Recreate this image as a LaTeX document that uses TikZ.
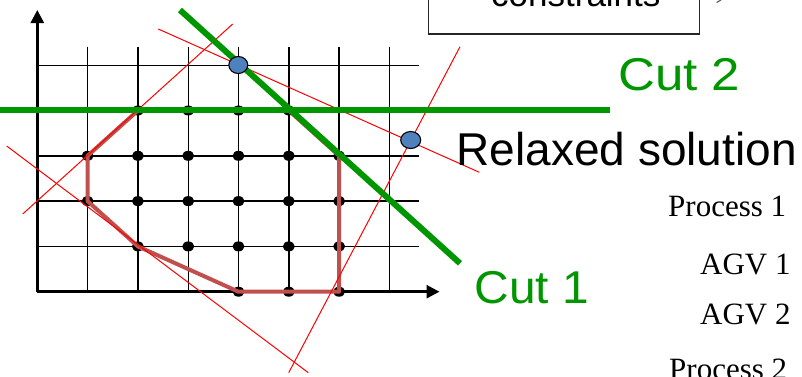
\documentclass[tikz,border=0pt]{standalone}
\usepackage{fontspec}
\setmainfont{Liberation Serif}
\newfontfamily\gothic{Liberation Sans}
\usetikzlibrary{arrows.meta,shapes.geometric}
\definecolor{cutgreen}{RGB}{0,150,0}
\definecolor{polyred}{RGB}{192,80,77}
\definecolor{bluept}{RGB}{79,129,189}
\tikzset{
  gridline/.style={line width=1.4pt,black},
  axisline/.style={line width=2.6pt,black,-{Triangle[width=13pt,length=13pt]}},
  intdot/.style={ellipse,fill=black,inner sep=0pt,minimum width=12pt,minimum height=10pt},
  hull/.style={line width=4pt,polyred,line join=round},
  redline/.style={line width=1pt,red},
  cutline/.style={line width=6pt,cutgreen},
  relaxpt/.style={ellipse,draw=black,line width=1.1pt,fill=bluept,inner sep=0pt},
  cutlabel/.style={anchor=base west,inner sep=0pt,text=cutgreen,font=\gothic\fontsize{46}{50}\selectfont},
  biglabel/.style={anchor=base west,inner sep=0pt,font=\gothic\fontsize{46}{50}\selectfont},
  seriflabel/.style={anchor=base west,inner sep=0pt,font=\fontsize{31}{34}\selectfont},
  boxstyle/.style={draw=black!85,line width=1.2pt}
}
\begin{document}
\begin{tikzpicture}[x=1pt,y=-1pt]
\useasboundingbox (0,0) rectangle (802,376);
\clip (0,0) rectangle (802,376);
% grid coordinates
\foreach \i in {0,...,7}{
  \foreach \j in {0,...,5}{
    \coordinate (g\i\j) at ({37.3+50.3*\i},{291.7-45.3*\j});
  }
}
% grid lines
\foreach \j in {1,...,5}{
  \coordinate (hl\j) at ({37.3},{291.7-45.3*\j});
  \coordinate (hr\j) at ({419.3},{291.7-45.3*\j});
  \draw[gridline] (hl\j) -- (hr\j);
}
\foreach \i in {1,...,7}{
  \coordinate (vt\i) at ({37.3+50.3*\i},46.7);
  \draw[gridline] (vt\i) -- (g\i0);
}
% axes
\coordinate (ytip) at (37.3,10);
\coordinate (xtip) at (439.5,291.7);
\draw[axisline] (g00) -- (ytip);
\draw[axisline] (g00) -- (xtip);
% integer points
\foreach \i/\j in {4/0,5/0,6/0,
                   2/1,3/1,4/1,5/1,6/1,
                   1/2,2/2,3/2,4/2,5/2,6/2,
                   1/3,2/3,3/3,4/3,5/3,6/3,
                   2/4,3/4,4/4,5/4}{
  \node[intdot] (d\i\j) at (g\i\j) {};
}
% convex hull
\draw[hull] (g24) -- (g13) -- (g12) -- (g21) -- (g40) -- (g60) -- (g63) -- (g54) -- cycle;
% LP constraint lines
\coordinate (r1a) at (158.3,29);   \coordinate (r1b) at (479.3,172.3);
\coordinate (r2a) at (232.7,24);   \coordinate (r2b) at (22.7,214);
\coordinate (r3a) at (6.7,146);    \coordinate (r3b) at (308.3,372.7);
\coordinate (r4a) at (460,46.7);   \coordinate (r4b) at (288.7,372.7);
\draw[redline] (r1a) -- (r1b);
\draw[redline] (r2a) -- (r2b);
\draw[redline] (r3a) -- (r3b);
\draw[redline] (r4a) -- (r4b);
% cuts
\coordinate (c1a) at (180,10);  \coordinate (c1b) at (460,263.3);
\coordinate (c2a) at (0,110);   \coordinate (c2b) at (610,110);
\draw[cutline] (c1a) -- (c1b);
\draw[cutline] (c2a) -- (c2b);
% relaxed solutions
\node[relaxpt,minimum width=19pt,minimum height=17pt] (p1) at (238.3,65) {};
\node[relaxpt,minimum width=20pt,minimum height=17pt] (p2) at (410.7,140) {};
% labels
\node[cutlabel] (cut2) at (618,90) {\scalebox{1.11}[1]{Cut 2}};
\node[cutlabel] (cut1) at (474.5,303) {\scalebox{1.04}[1]{Cut 1}};
\node[biglabel] (relax) at (456.5,165) {Relaxed solution};
\node[seriflabel] (proc1) at (668,216.7) {Process 1};
\node[seriflabel] (agv1) at (700,274) {AGV 1};
\node[seriflabel] (agv2) at (700,324) {AGV 2};
\node[seriflabel] (proc2) at (669,379) {Process 2};
% constraints box (cut off at top)
\coordinate (bxa) at (428.3,-40);
\coordinate (bxb) at (699.3,34);
\draw[boxstyle] (bxa) rectangle (bxb);
\node[anchor=base west,inner sep=0pt,font=\gothic\fontsize{35}{38}\selectfont] (cons) at (491,6) {constraints};
\coordinate (m1) at (716.5,2.5);
\coordinate (m2) at (721,0);
\draw[black!70,line width=1pt] (m1) -- (m2);
\end{tikzpicture}
\end{document}
